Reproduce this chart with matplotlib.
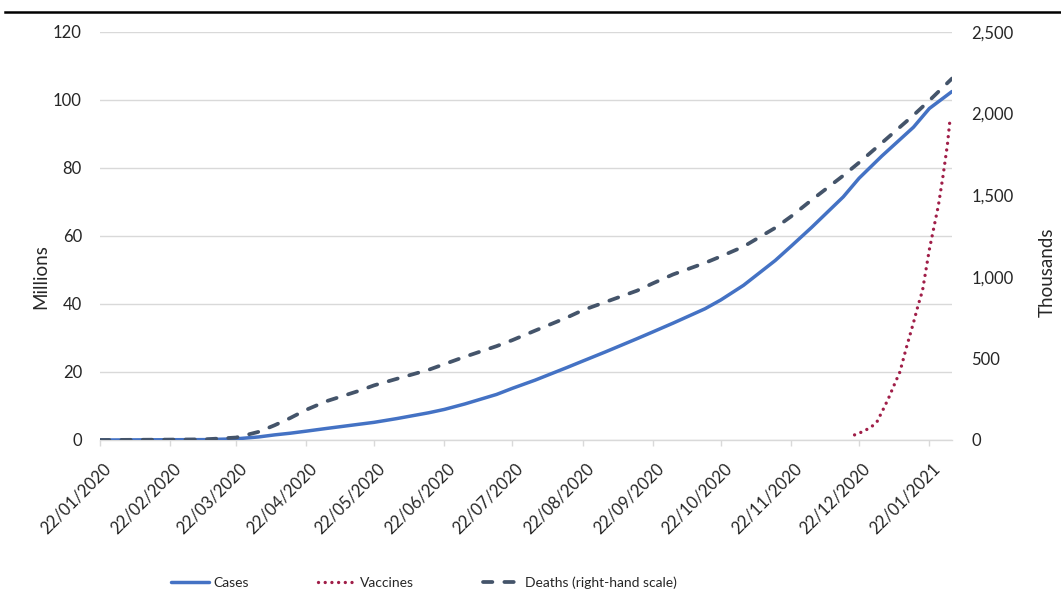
import pandas as pd
import matplotlib
matplotlib.use("Agg")
import matplotlib.pyplot as plt
import matplotlib.transforms as mtrans
from matplotlib.ticker import FuncFormatter, MultipleLocator
from matplotlib.lines import Line2D

plt.rcParams['font.family'] = ['Lato', 'DejaVu Sans']

# cumulative totals, roughly every two weeks
dates = ["22/01/2020", "22/02/2020", "08/03/2020", "22/03/2020", "01/04/2020",
         "08/04/2020", "15/04/2020", "22/04/2020", "01/05/2020", "15/05/2020",
         "22/05/2020", "01/06/2020", "15/06/2020", "22/06/2020", "01/07/2020",
         "15/07/2020", "22/07/2020", "01/08/2020", "15/08/2020", "22/08/2020",
         "01/09/2020", "15/09/2020", "22/09/2020", "01/10/2020", "15/10/2020",
         "22/10/2020", "01/11/2020", "15/11/2020", "22/11/2020", "01/12/2020",
         "15/12/2020", "22/12/2020", "01/01/2021", "15/01/2021", "22/01/2021",
         "01/02/2021"]
cases = [0.0, 0.08, 0.11, 0.34, 0.9,
         1.5, 2.0, 2.6, 3.4, 4.6,
         5.2, 6.3, 8.0, 9.0, 10.6,
         13.4, 15.2, 17.6, 21.3, 23.2,
         25.9, 29.8, 31.8, 34.4, 38.6,
         41.2, 45.5, 52.8, 57.0, 62.5,
         71.5, 77.0, 83.5, 92.0, 97.5,
         102.5]  # millions
deaths = [0, 2.4, 3.8, 15, 50,
          90, 135, 185, 238, 300,
          335, 375, 430, 465, 510,
          575, 612, 670, 750, 795,
          845, 915, 960, 1015, 1085,
          1125, 1185, 1300, 1370, 1470,
          1620, 1700, 1820, 1990, 2080,
          2215]  # thousands

vacc_dates = ["20/12/2020", "23/12/2020", "26/12/2020", "28/12/2020", "30/12/2020",
              "02/01/2021", "04/01/2021", "07/01/2021", "09/01/2021", "12/01/2021",
              "15/01/2021", "17/01/2021", "19/01/2021", "22/01/2021", "24/01/2021",
              "26/01/2021", "28/01/2021", "30/01/2021", "31/01/2021"]
vaccines = [1.5, 2.3, 3.3, 4.2, 5.5,
            9.5, 12.3, 17.0, 20.0, 27.5,
            34.5, 39.5, 44.0, 56.0, 62.5,
            69.0, 77.5, 87.0, 93.5]  # millions

tick_labels = ["22/01/2020", "22/02/2020", "22/03/2020", "22/04/2020", "22/05/2020",
               "22/06/2020", "22/07/2020", "22/08/2020", "22/09/2020", "22/10/2020",
               "22/11/2020", "22/12/2020", "22/01/2021"]

d = pd.to_datetime(dates, dayfirst=True)
vd = pd.to_datetime(vacc_dates, dayfirst=True)
ticks = pd.to_datetime(tick_labels, dayfirst=True)

c_cases = "#4472C4"
c_vacc = "#A01E48"
c_deaths = "#44546A"
txt = "#262626"

fig = plt.figure(figsize=(10.61, 6.16), dpi=100)
ax = fig.add_axes([100/1061, 1 - 440/616, 852/1061, 408/616])
ax2 = ax.twinx()

ax.plot(d, cases, color=c_cases, lw=2.5, solid_capstyle='round', label="Cases", zorder=3)
ax.plot(vd, vaccines, color=c_vacc, lw=2.4, linestyle=(0, (0.01, 2.0)),
        dash_capstyle='round', label="Vaccines", zorder=3)
ax2.plot(d, deaths, color=c_deaths, lw=2.7, linestyle=(0, (2.5, 3.2)),
         dash_capstyle='round', label="Deaths (right-hand scale)")

ax.set_xlim(pd.Timestamp("2020-01-22"), pd.Timestamp("2021-02-01"))
ax.set_ylim(0, 120)
ax2.set_ylim(0, 2500)
ax.yaxis.set_major_locator(MultipleLocator(20))
ax2.yaxis.set_major_locator(MultipleLocator(500))
ax2.yaxis.set_major_formatter(FuncFormatter(lambda v, p: f"{v:,.0f}"))

ax.grid(axis='y', color='#D9D9D9', lw=1)
ax.set_axisbelow(True)
for a in (ax, ax2):
    for s in ('top', 'left', 'right', 'bottom'):
        a.spines[s].set_visible(False)
ax.spines['bottom'].set_visible(True)
ax.spines['bottom'].set_color('#D9D9D9')
ax.spines['bottom'].set_linewidth(1)

ax.set_xticks(ticks)
ax.set_xticklabels(tick_labels)
ax.tick_params(axis='x', direction='out', length=4, width=1, color='#D9D9D9',
               pad=15, labelsize=12, labelcolor=txt)
shift = mtrans.ScaledTranslation(6/72, 0, fig.dpi_scale_trans)
for lab in ax.get_xticklabels():
    lab.set_rotation(45)
    lab.set_ha('right')
    lab.set_va('center')
    lab.set_rotation_mode('anchor')
    lab.set_transform(lab.get_transform() + shift)
ax.tick_params(axis='y', length=0, pad=13, labelsize=12, labelcolor=txt)
ax2.tick_params(axis='y', length=0, pad=14, labelsize=12, labelcolor=txt)

ax.set_ylabel("Millions", fontsize=13.5, color=txt)
ax2.set_ylabel("Thousands", fontsize=13.5, color=txt)
ax.yaxis.set_label_coords(-0.060, 0.40)
ax2.yaxis.set_label_coords(1.102, 0.41)

h1, l1 = ax.get_legend_handles_labels()
h2, l2 = ax2.get_legend_handles_labels()
fig.legend(h1 + h2, l1 + l2, loc='center', bbox_to_anchor=(424/1061, 1 - 583/616),
           ncol=3, frameon=False, fontsize=10, handlelength=2.7, handletextpad=0.3,
           columnspacing=5.0, labelcolor=txt)

fig.add_artist(Line2D([5/1061, 1.0], [1 - 12/616] * 2, color='black', lw=1.8))

fig.savefig("out.png", dpi=100)
